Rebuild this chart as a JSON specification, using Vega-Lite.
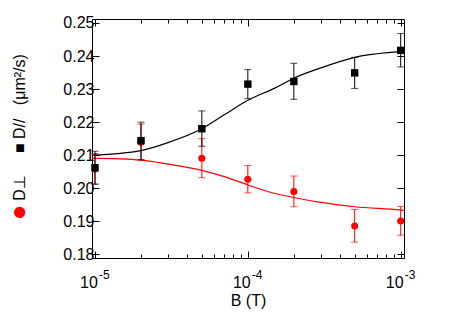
{
  "$schema": "https://vega.github.io/schema/vega-lite/v6.json",
  "width": 312,
  "height": 239,
  "autosize": "none",
  "padding": {"left": 92, "top": 19, "right": 46, "bottom": 57},
  "background": "white",
  "config": {
    "view": {"stroke": "black", "strokeWidth": 1},
    "font": "Liberation Sans",
    "axis": {"grid": false, "domain": false, "labelFont": "Liberation Sans", "titleFont": "Liberation Sans", "labelColor": "black", "titleColor": "black", "tickColor": "black", "labelOverlap": false, "labelFlush": false, "titleFontWeight": "normal"}
  },
  "datasets": {
    "black": [
      {"B": 1e-5, "D": 0.2062, "lo": 0.2012, "hi": 0.2112},
      {"B": 2e-5, "D": 0.2144, "lo": 0.2086, "hi": 0.2200},
      {"B": 5e-5, "D": 0.2180, "lo": 0.2127, "hi": 0.2234},
      {"B": 1e-4, "D": 0.2315, "lo": 0.2271, "hi": 0.2359},
      {"B": 2e-4, "D": 0.2323, "lo": 0.2269, "hi": 0.2378},
      {"B": 5e-4, "D": 0.2349, "lo": 0.2302, "hi": 0.2396},
      {"B": 1e-3, "D": 0.2417, "lo": 0.2367, "hi": 0.2468}
    ],
    "red": [
      {"B": 1e-5, "D": 0.2058, "lo": 0.2013, "hi": 0.2105},
      {"B": 2e-5, "D": 0.2139, "lo": 0.2086, "hi": 0.2194},
      {"B": 5e-5, "D": 0.2091, "lo": 0.2032, "hi": 0.2150},
      {"B": 1e-4, "D": 0.2027, "lo": 0.1986, "hi": 0.2069},
      {"B": 2e-4, "D": 0.1990, "lo": 0.1944, "hi": 0.2037},
      {"B": 5e-4, "D": 0.1886, "lo": 0.1837, "hi": 0.1936},
      {"B": 1e-3, "D": 0.1901, "lo": 0.1858, "hi": 0.1945}
    ],
    "blackfit": [
      {"B": 9.56e-6, "D": 0.2100},
      {"B": 2e-5, "D": 0.2114},
      {"B": 3e-5, "D": 0.2138},
      {"B": 5e-5, "D": 0.2180},
      {"B": 7e-5, "D": 0.2222},
      {"B": 1e-4, "D": 0.2266},
      {"B": 1.5e-4, "D": 0.2303},
      {"B": 2e-4, "D": 0.2333},
      {"B": 3e-4, "D": 0.2364},
      {"B": 5e-4, "D": 0.2396},
      {"B": 1e-3, "D": 0.2414},
      {"B": 1.05e-3, "D": 0.2415}
    ],
    "redfit": [
      {"B": 9.56e-6, "D": 0.2091},
      {"B": 2e-5, "D": 0.2085},
      {"B": 3e-5, "D": 0.2073},
      {"B": 5e-5, "D": 0.2054},
      {"B": 7e-5, "D": 0.2035},
      {"B": 1e-4, "D": 0.2010},
      {"B": 1.4e-4, "D": 0.1988},
      {"B": 2e-4, "D": 0.1972},
      {"B": 3e-4, "D": 0.1957},
      {"B": 5e-4, "D": 0.1944},
      {"B": 1e-3, "D": 0.1934},
      {"B": 1.05e-3, "D": 0.1933}
    ]
  },
  "resolve": {"axis": {"x": "independent", "y": "independent"}},
  "layer": [
    {
      "data": {"name": "red"},
      "mark": {"type": "rule", "color": "#ff0000", "strokeWidth": 1},
      "encoding": {
        "x": {"field": "B", "type": "quantitative", "scale": {"type": "log", "domain": [9.56e-6, 1.051e-3], "nice": false},
          "axis": {"orient": "bottom", "values": [1e-5, 1e-4, 1e-3], "labelExpr": "'10'", "labelFontSize": 16, "labelOffset": -6.5, "labelPadding": 23, "tickSize": -7, "title": "B (T)", "titleFontSize": 16, "titleBaseline": "alphabetic", "titleY": 47}},
        "y": {"field": "lo", "type": "quantitative", "scale": {"domain": [0.1789, 0.2512], "nice": false, "zero": false},
          "axis": {"orient": "left", "values": [0.18, 0.19, 0.2, 0.21, 0.22, 0.23, 0.24, 0.25], "format": ".2f", "labelFontSize": 16, "labelPadding": 5, "tickSize": -7,
            "title": "D⊥\u00a0\u00a0\u00a0\u00a0\u00a0■\u00a0D//\u00a0\u00a0\u00a0(μm²/s)", "titleFontSize": 16, "titleAngle": -90, "titleX": -73, "titleY": 108, "titleAlign": "center", "titleBaseline": "middle"}},
        "y2": {"field": "hi"}
      }
    },
    {
      "data": {"name": "red"},
      "mark": {"type": "tick", "orient": "horizontal", "color": "#ff0000", "size": 7, "thickness": 1},
      "encoding": {
        "x": {"field": "B", "type": "quantitative",
          "axis": {"orient": "bottom", "values": [1e-5, 1e-4, 1e-3], "labelExpr": "datum.value < 5e-5 ? '-5' : datum.value < 5e-4 ? '-4' : '-3'", "labelFontSize": 12, "labelAlign": "left", "labelOffset": 3.5, "labelPadding": 11, "ticks": false, "title": null}},
        "y": {"field": "lo", "type": "quantitative",
          "axis": {"orient": "left", "labels": false, "ticks": false, "title": "●", "titleColor": "#ff0000", "titleFontSize": 26, "titleAngle": -90, "titleX": -74, "titleY": 193, "titleAlign": "center", "titleBaseline": "middle"}}
      }
    },
    {
      "data": {"name": "red"},
      "mark": {"type": "tick", "orient": "horizontal", "color": "#ff0000", "size": 7, "thickness": 1},
      "encoding": {
        "x": {"field": "B", "type": "quantitative",
          "axis": {"orient": "bottom", "values": [2e-5, 3e-5, 4e-5, 5e-5, 6e-5, 7e-5, 8e-5, 9e-5, 2e-4, 3e-4, 4e-4, 5e-4, 6e-4, 7e-4, 8e-4, 9e-4], "labels": false, "tickSize": -4, "title": null}},
        "y": {"field": "hi", "type": "quantitative",
          "axis": {"orient": "right", "values": [0.18, 0.19, 0.2, 0.21, 0.22, 0.23, 0.24, 0.25], "labels": false, "tickSize": -7, "title": null}}
      }
    },
    {
      "data": {"name": "redfit"},
      "mark": {"type": "line", "color": "#ff0000", "strokeWidth": 1.2, "interpolate": "monotone", "clip": true},
      "encoding": {
        "x": {"field": "B", "type": "quantitative",
          "axis": {"orient": "top", "values": [1e-5, 1e-4, 1e-3], "labels": false, "tickSize": -7, "title": null}},
        "y": {"field": "D", "type": "quantitative", "axis": null}
      }
    },
    {
      "data": {"name": "red"},
      "mark": {"type": "point", "shape": "circle", "filled": true, "color": "#ff0000", "size": 50, "opacity": 1},
      "encoding": {
        "x": {"field": "B", "type": "quantitative",
          "axis": {"orient": "top", "values": [2e-5, 3e-5, 4e-5, 5e-5, 6e-5, 7e-5, 8e-5, 9e-5, 2e-4, 3e-4, 4e-4, 5e-4, 6e-4, 7e-4, 8e-4, 9e-4], "labels": false, "tickSize": -4, "title": null}},
        "y": {"field": "D", "type": "quantitative", "axis": null}
      }
    },
    {
      "data": {"name": "black"},
      "mark": {"type": "rule", "color": "#000000", "strokeWidth": 1},
      "encoding": {
        "x": {"field": "B", "type": "quantitative", "axis": null},
        "y": {"field": "lo", "type": "quantitative", "axis": null},
        "y2": {"field": "hi"}
      }
    },
    {
      "data": {"name": "black"},
      "mark": {"type": "tick", "orient": "horizontal", "color": "#000000", "size": 7, "thickness": 1},
      "encoding": {
        "x": {"field": "B", "type": "quantitative", "axis": null},
        "y": {"field": "lo", "type": "quantitative", "axis": null}
      }
    },
    {
      "data": {"name": "black"},
      "mark": {"type": "tick", "orient": "horizontal", "color": "#000000", "size": 7, "thickness": 1},
      "encoding": {
        "x": {"field": "B", "type": "quantitative", "axis": null},
        "y": {"field": "hi", "type": "quantitative", "axis": null}
      }
    },
    {
      "data": {"name": "blackfit"},
      "mark": {"type": "line", "color": "#000000", "strokeWidth": 1.2, "interpolate": "monotone", "clip": true},
      "encoding": {
        "x": {"field": "B", "type": "quantitative", "axis": null},
        "y": {"field": "D", "type": "quantitative", "axis": null}
      }
    },
    {
      "data": {"name": "black"},
      "mark": {"type": "point", "shape": "square", "filled": true, "color": "#000000", "size": 55, "opacity": 1},
      "encoding": {
        "x": {"field": "B", "type": "quantitative", "axis": null},
        "y": {"field": "D", "type": "quantitative", "axis": null}
      }
    }
  ]
}
